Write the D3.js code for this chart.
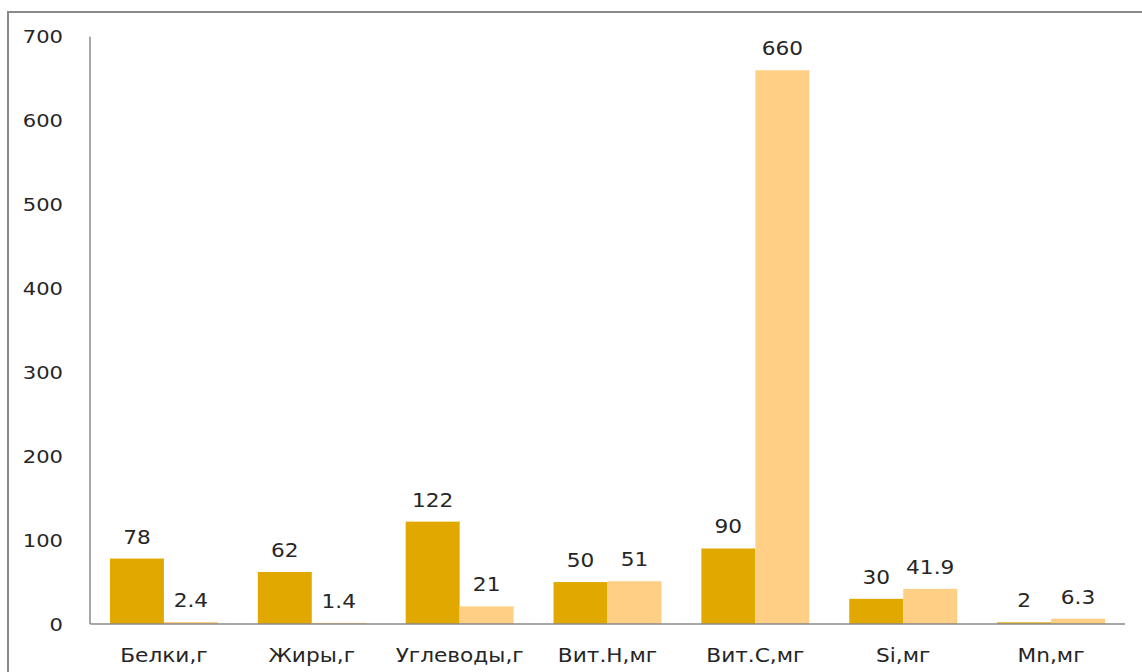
<!DOCTYPE html>
<html>
<head>
<meta charset="utf-8">
<script src="https://cdn.jsdelivr.net/npm/d3@7"></script>
<style>
  html, body { margin: 0; padding: 0; background: #fff; }
  svg { display: block; }
  text { font-family: "DejaVu Sans", Verdana, sans-serif; fill: #262626; }
</style>
</head>
<body>
<svg id="chart" width="1142" height="672"></svg>
<script>
// Nutrient categories and two compared series
const categories = ["Белки,г", "Жиры,г", "Углеводы,г", "Вит.Н,мг", "Вит.С,мг", "Si,мг", "Mn,мг"];
const seriesA = [78, 62, 122, 50, 90, 30, 2];
const seriesB = [2.4, 1.4, 21, 51, 660, 41.9, 6.3];
const seriesALabels = ["78", "62", "122", "50", "90", "30", "2"];
const seriesBLabels = ["2.4", "1.4", "21", "51", "660", "41.9", "6.3"];
const yTicks = [0, 100, 200, 300, 400, 500, 600, 700];

const colorA = "#E1A900";
const colorB = "#FFCF85";

// the lettering is drawn slightly wide
const stretch = 1.14;
const place = (x, y) => `translate(${x},${y}) scale(${stretch},1)`;

const svg = d3.select("#chart");

// outer frame
svg.append("rect")
  .attr("x", 8).attr("y", 12)
  .attr("width", 1150).attr("height", 680)
  .attr("fill", "none").attr("stroke", "#8a8a8a").attr("stroke-width", 2);

const plotLeft = 90, plotRight = 1125, plotTop = 36.7, plotBottom = 624;

const x0 = d3.scaleBand().domain(categories).range([plotLeft, plotRight]).paddingInner(0.27).paddingOuter(0.135);
const x1 = d3.scaleBand().domain(["a", "b"]).range([0, x0.bandwidth()]);
const y = d3.scaleLinear().domain([0, 700]).range([plotBottom, plotTop]);

// y axis line
svg.append("line")
  .attr("x1", plotLeft).attr("x2", plotLeft).attr("y1", plotTop).attr("y2", plotBottom)
  .attr("stroke", "#8a8a8a").attr("stroke-width", 1.5);

// y tick labels
svg.append("g").selectAll("text").data(yTicks).join("text")
  .attr("transform", d => place(63, y(d)))
  .attr("dy", "0.36em")
  .attr("text-anchor", "end").attr("font-size", 18.5)
  .text(d => d);

const data = categories.map((c, i) => ({ c, a: seriesA[i], b: seriesB[i], la: seriesALabels[i], lb: seriesBLabels[i] }));

const g = svg.append("g");
const groups = g.selectAll("g").data(data).join("g")
  .attr("transform", d => `translate(${x0(d.c)},0)`);

groups.append("rect")
  .attr("x", x1("a")).attr("width", x1.bandwidth())
  .attr("y", d => y(d.a)).attr("height", d => y(0) - y(d.a))
  .attr("fill", colorA);
groups.append("rect")
  .attr("x", x1("b")).attr("width", x1.bandwidth())
  .attr("y", d => y(d.b)).attr("height", d => y(0) - y(d.b))
  .attr("fill", colorB);

// value labels
groups.append("text")
  .attr("transform", d => place(x1("a") + x1.bandwidth() / 2, y(d.a) - 15))
  .attr("text-anchor", "middle").attr("font-size", 19)
  .text(d => d.la);
groups.append("text")
  .attr("transform", d => place(x1("b") + x1.bandwidth() / 2, y(d.b) - 15))
  .attr("text-anchor", "middle").attr("font-size", 19)
  .text(d => d.lb);

// baseline
svg.append("line")
  .attr("x1", plotLeft).attr("x2", plotRight).attr("y1", plotBottom).attr("y2", plotBottom)
  .attr("stroke", "#8a8a8a").attr("stroke-width", 1.5);

// category labels
svg.append("g").selectAll("text").data(categories).join("text")
  .attr("transform", d => place(x0(d) + x0.bandwidth() / 2, 662))
  .attr("text-anchor", "middle").attr("font-size", 19)
  .text(d => d);
</script>
</body>
</html>
